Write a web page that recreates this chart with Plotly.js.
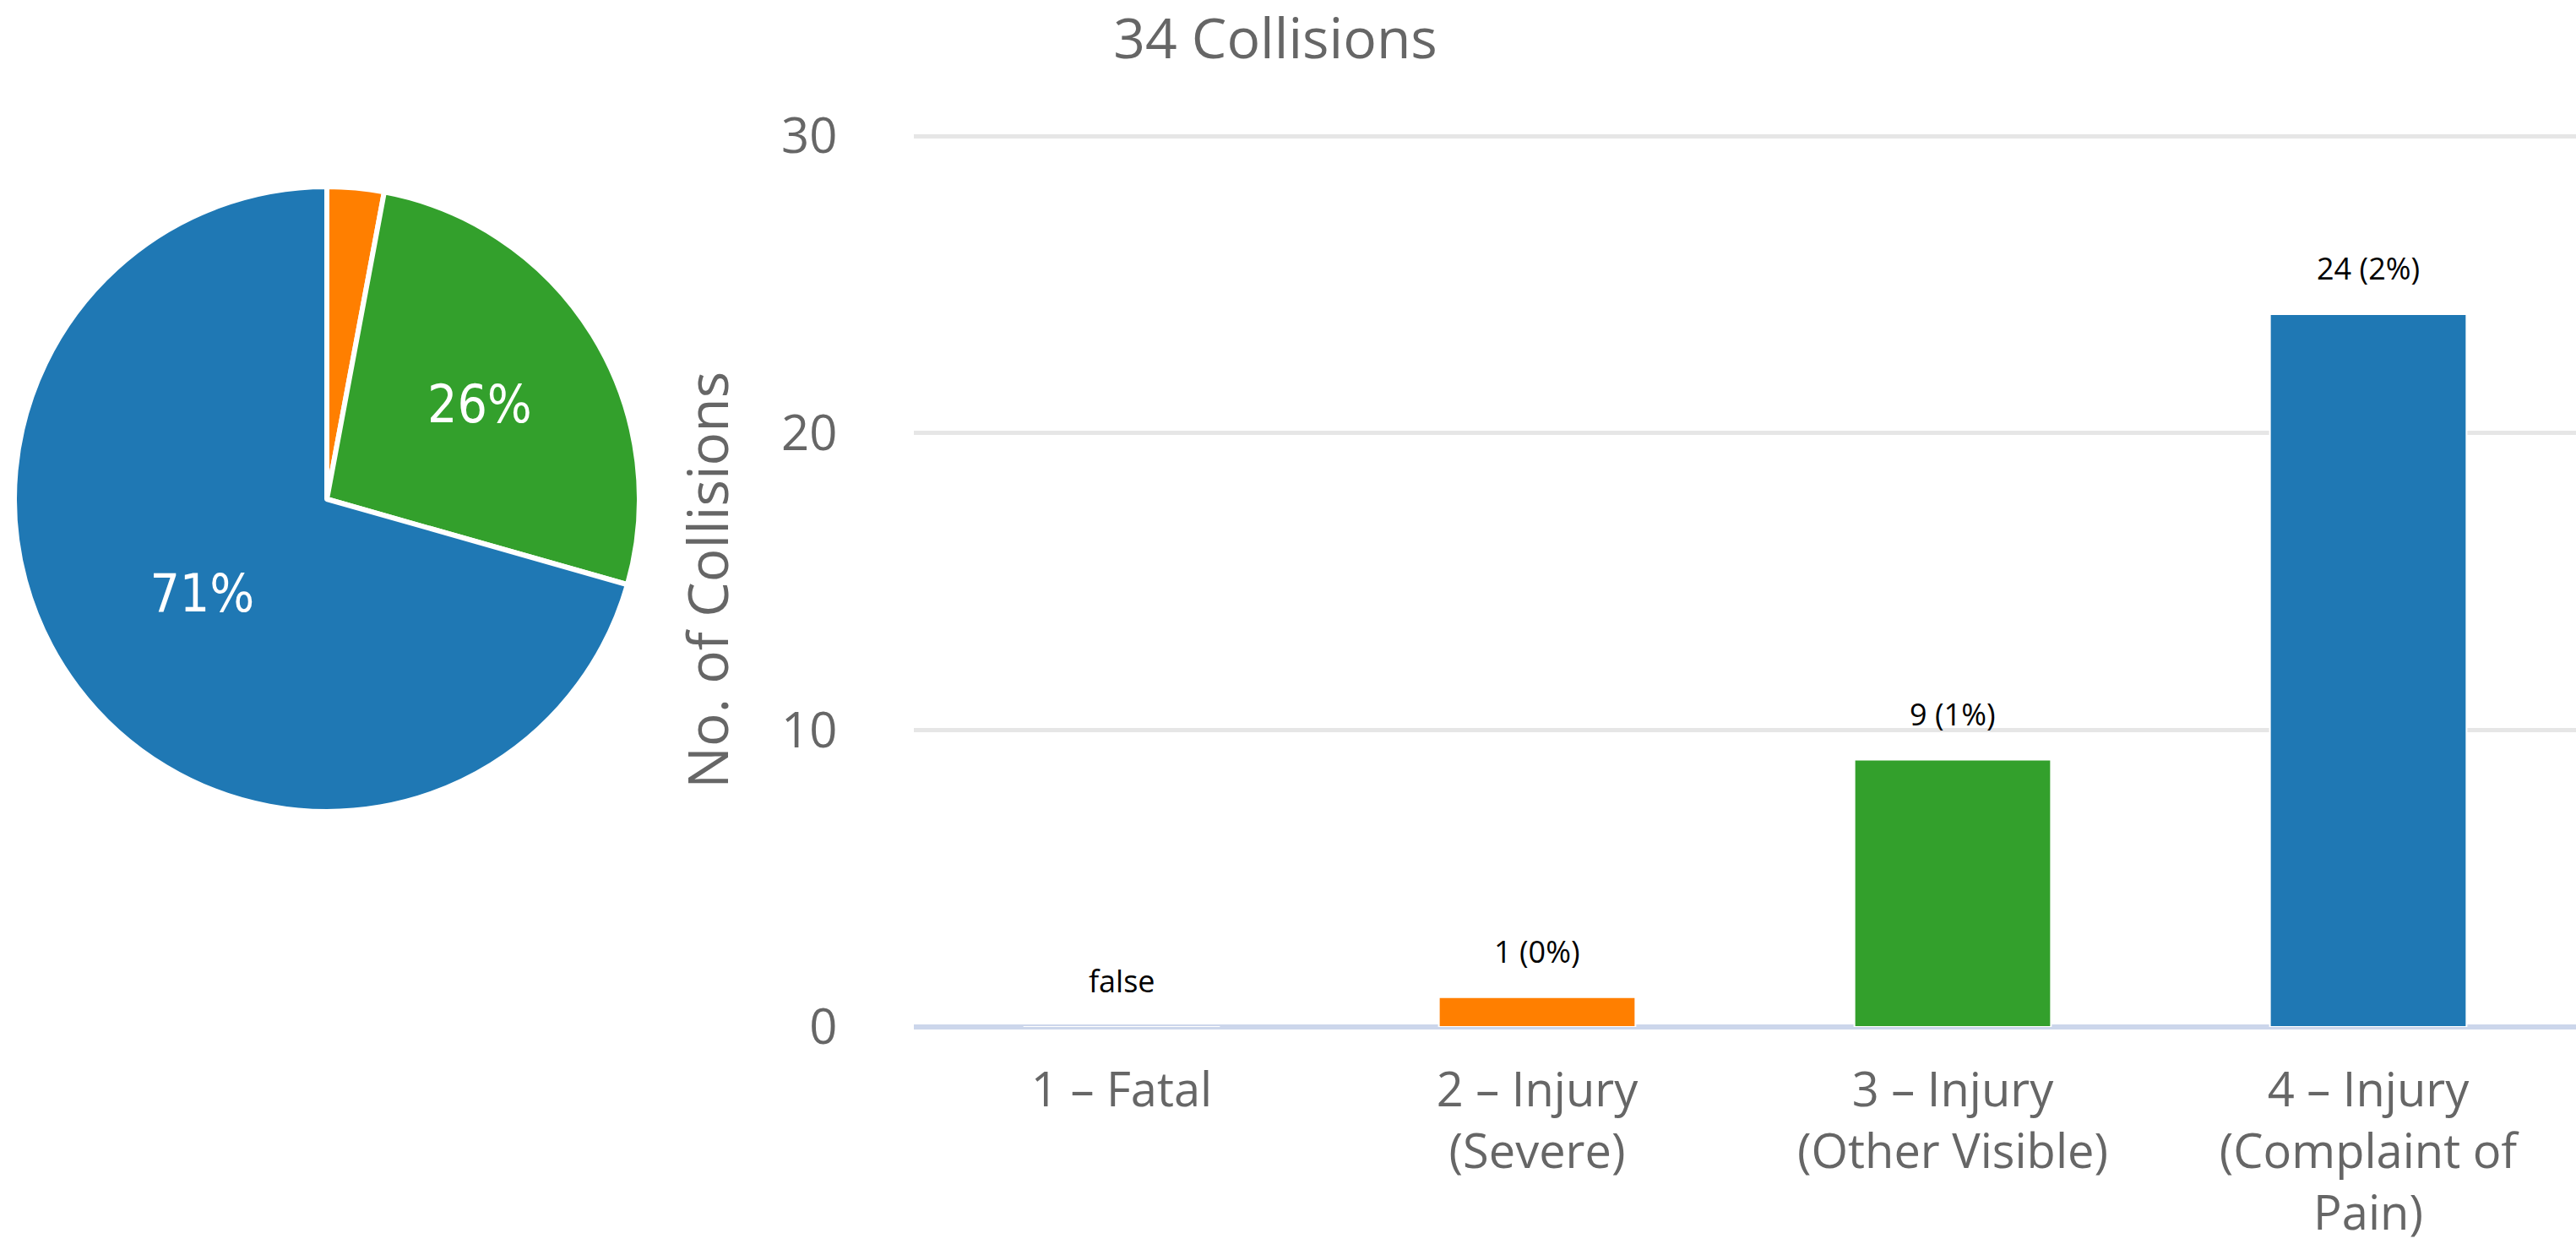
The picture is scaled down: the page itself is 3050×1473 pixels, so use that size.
<!DOCTYPE html>
<html>
<head>
<meta charset="utf-8">
<script src="https://cdn.plot.ly/plotly-3.0.1.min.js"></script>
<style>html,body{margin:0;padding:0;background:#fff;}#chart{width:3050px;height:1473px;}</style>
</head>
<body>
<div id="chart"></div>
<script>
// ---- data ----
const categories = ["1 – Fatal", "2 – Injury (Severe)", "3 – Injury (Other Visible)", "4 – Injury (Complaint of Pain)"];
const tickLabels = ["1 – Fatal", "2 – Injury<br>(Severe)", "3 – Injury<br>(Other Visible)", "4 – Injury<br>(Complaint of<br>Pain)"];
const collisions = [0, 1, 9, 24];
const barLabels = ["false", "1 (0%)", "9 (1%)", "24 (2%)"];
const pieTextTemplates = ["", "", "%{percent:.0%}", "%{percent:.0%}"];
const colors = ["#e31a1c", "#ff7f00", "#33a02c", "#1f78b4"];
const chartTitle = "34 Collisions";
const yTitle = "No. of Collisions";
const yTicks = [0, 10, 20, 30];

const W = 3050, H = 1473;
const FONT = "'Open Sans', 'DejaVu Sans', sans-serif";

const pie = {
  type: "pie",
  labels: categories,
  values: collisions,
  sort: false,
  direction: "clockwise",
  rotation: 0,
  marker: {colors: colors, line: {color: "#ffffff", width: 6}},
  texttemplate: pieTextTemplates,
  textposition: "inside",
  insidetextorientation: "horizontal",
  textfont: {family: "'DejaVu Sans Condensed', 'DejaVu Sans', sans-serif", size: 62, color: "#ffffff"},
  domain: {x: [17/W, 757/W], y: [1 - 961/H, 1 - 221/H]},
  hoverinfo: "label+value+percent",
  showlegend: false
};

const bar = {
  type: "bar",
  x: categories,
  y: collisions,
  marker: {color: colors, line: {color: "#ffffff", width: 2}},
  xaxis: "x",
  yaxis: "y",
  hoverinfo: "x+y",
  showlegend: false
};

const annotations = categories.map((c, i) => ({
  x: c, y: collisions[i], xref: "x", yref: "y",
  text: barLabels[i], showarrow: false,
  yanchor: "bottom", yshift: 28,
  font: {family: FONT, size: 36, color: "#000000"}
}));

const layout = {
  width: W, height: H,
  margin: {l: 0, r: 0, t: 0, b: 0, pad: 0},
  paper_bgcolor: "#ffffff",
  plot_bgcolor: "#ffffff",
  showlegend: false,
  bargap: 0.527,
  title: {
    text: chartTitle,
    font: {family: FONT, size: 66, color: "#666666"},
    x: 1510/W, xanchor: "center", xref: "container",
    y: 1 - 46/H, yanchor: "middle", yref: "container"
  },
  xaxis: {
    domain: [1082/W, 1],
    type: "category",
    tickvals: categories,
    ticktext: tickLabels,
    ticks: "outside", ticklen: 26, tickcolor: "rgba(0,0,0,0)",
    tickfont: {family: FONT, size: 56, color: "#666666"},
    showgrid: false, showline: false, zeroline: false,
    automargin: false, fixedrange: true
  },
  yaxis: {
    domain: [1 - 1216/H, 1 - 157.5/H],
    range: [0, 30.1],
    tickvals: yTicks,
    ticks: "outside", ticklen: 78, tickcolor: "rgba(0,0,0,0)",
    tickfont: {family: FONT, size: 58, color: "#666666"},
    showgrid: true, gridcolor: "#e6e6e6", gridwidth: 5,
    zeroline: true, zerolinecolor: "#ccd6eb", zerolinewidth: 6,
    showline: false,
    title: {text: yTitle, font: {family: FONT, size: 66, color: "#666666"}, standoff: 40},
    automargin: false, fixedrange: true
  },
  annotations: annotations
};

Plotly.newPlot("chart", [pie, bar], layout, {displayModeBar: false, staticPlot: true});
</script>
</body>
</html>
